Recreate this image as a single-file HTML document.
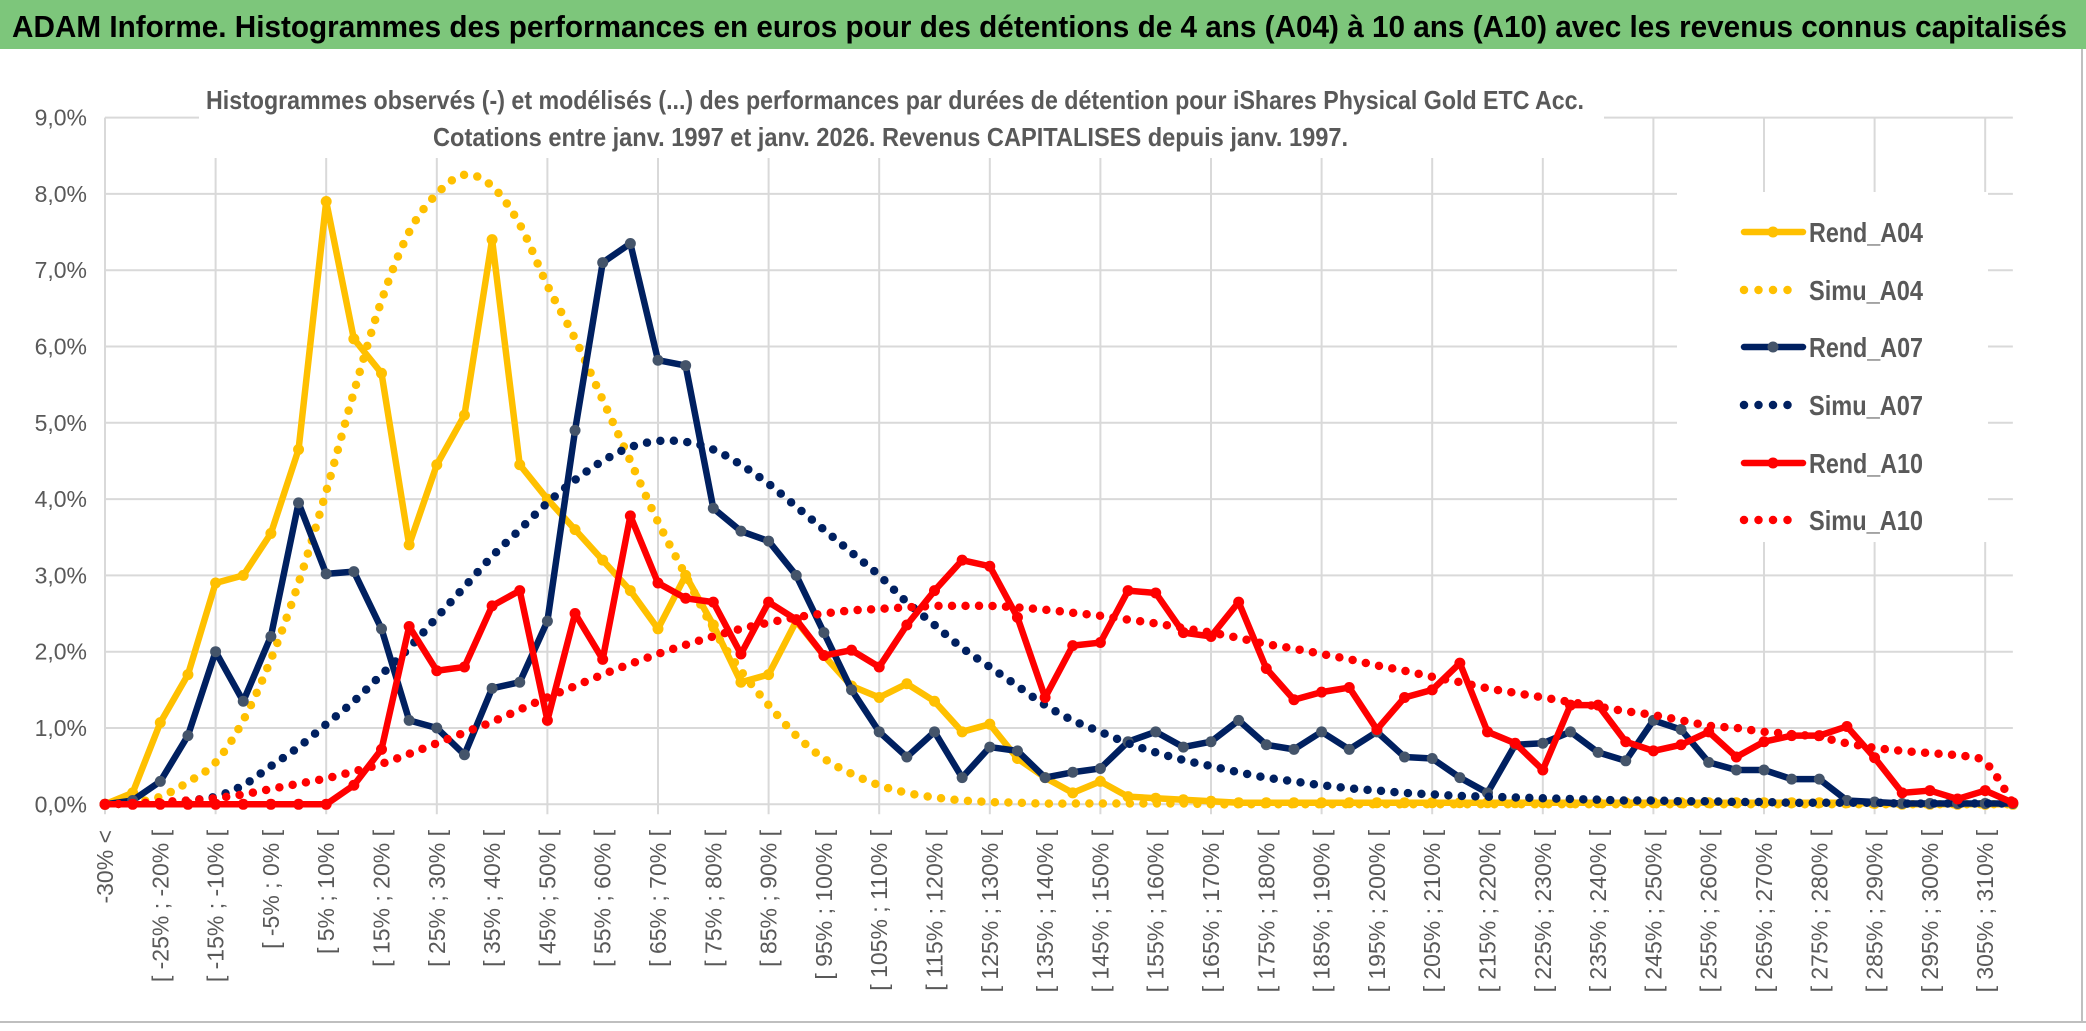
<!DOCTYPE html>
<html><head><meta charset="utf-8">
<style>
html,body{margin:0;padding:0;background:#fff;}
svg{display:block;}
text{font-family:"Liberation Sans",sans-serif;}
</style></head>
<body>
<svg id="chart" width="2086" height="1031" viewBox="0 0 2086 1031" xmlns="http://www.w3.org/2000/svg">
<rect x="0" y="0" width="2086" height="1031" fill="#ffffff"/>
<rect x="0" y="0" width="2086" height="49" fill="#7dc67b"/>
<text x="12" y="37" font-size="31" font-weight="bold" fill="#000" textLength="2055" lengthAdjust="spacingAndGlyphs">ADAM Informe. Histogrammes des performances en euros pour des détentions de 4 ans (A04) à 10 ans (A10) avec les revenus connus capitalisés</text>
<line x1="0" y1="1022" x2="2086" y2="1022" stroke="#bfbfbf" stroke-width="2"/>
<line x1="2082" y1="49" x2="2082" y2="1022" stroke="#bfbfbf" stroke-width="2"/>
<g id="grid"></g>
<rect x="199" y="58" width="1405" height="100" fill="#fff"/>
<text x="206" y="109" font-size="26" font-weight="bold" fill="#595959" textLength="1378" lengthAdjust="spacingAndGlyphs">Histogrammes observés (-) et modélisés (...) des performances par durées de détention pour iShares Physical Gold ETC Acc.</text>
<text x="433" y="146" font-size="26" font-weight="bold" fill="#595959" textLength="915" lengthAdjust="spacingAndGlyphs">Cotations entre janv. 1997 et janv. 2026. Revenus CAPITALISES depuis janv. 1997.</text>
<g id="yaxis"></g>
<g id="xaxis"></g>
<g id="series"></g>
<g id="legend"></g>
</svg>
<script>
const yTicks = [0,1,2,3,4,5,6,7,8,9];
const yTickLabels = ["0,0%","1,0%","2,0%","3,0%","4,0%","5,0%","6,0%","7,0%","8,0%","9,0%"];
const binStarts = [-30,-25,-20,-15,-10,-5,0,5,10,15,20,25,30,35,40,45,50,55,60,65,70,75,80,85,90,95,100,105,110,115,120,125,130,135,140,145,150,155,160,165,170,175,180,185,190,195,200,205,210,215,220,225,230,235,240,245,250,255,260,265,270,275,280,285,290,295,300,305,310];
const categories = ["-30% <"].concat(binStarts.map(b => "[ " + b + "% ; " + (b + 5) + "% ["));

const rendA04 = [0,0.15,1.07,1.7,2.9,3.0,3.55,4.65,7.9,6.1,5.65,3.4,4.45,5.1,7.4,4.45,4.0,3.6,3.2,2.8,2.3,3.0,2.35,1.6,1.7,2.4,1.95,1.55,1.4,1.58,1.35,0.95,1.05,0.6,0.35,0.15,0.3,0.1,0.08,0.06,0.04,0.02,0.02,0.02,0.02,0.02,0.02,0.02,0.02,0.02,0.02,0.02,0.02,0.02,0.02,0.02,0.02,0.02,0.02,0.02,0.02,0.02,0.02,0.02,0.01,0,0,0,0,0];
const simuA04 = [0,0.02,0.1,0.29,0.55,1.1,1.9,2.9,4.1,5.4,6.6,7.5,8.0,8.25,8.1,7.6,6.8,6.1,5.3,4.5,3.7,3.0,2.3,1.75,1.3,0.9,0.6,0.4,0.25,0.15,0.09,0.05,0.03,0.02,0.01,0.01,0.01,0.01,0.01,0.01,0,0,0,0,0,0,0,0,0,0,0,0,0,0,0,0,0,0,0,0,0,0,0,0,0,0,0,0,0,0];
const rendA07 = [0,0.05,0.3,0.9,2.0,1.35,2.2,3.95,3.02,3.05,2.3,1.1,1.0,0.65,1.52,1.6,2.4,4.9,7.1,7.35,5.82,5.75,3.88,3.58,3.45,3.0,2.25,1.5,0.95,0.62,0.95,0.35,0.75,0.7,0.35,0.42,0.47,0.82,0.95,0.75,0.82,1.1,0.78,0.72,0.95,0.72,0.95,0.62,0.6,0.35,0.15,0.78,0.8,0.95,0.68,0.57,1.1,0.98,0.55,0.45,0.45,0.33,0.33,0.05,0.03,0.01,0.01,0.01,0.01,0.01];
const simuA07 = [0,0.01,0.02,0.05,0.1,0.25,0.5,0.75,1.05,1.35,1.7,2.05,2.45,2.85,3.25,3.6,3.95,4.25,4.5,4.68,4.76,4.75,4.65,4.45,4.2,3.9,3.6,3.3,3.0,2.65,2.35,2.05,1.8,1.55,1.3,1.1,0.95,0.8,0.68,0.58,0.5,0.42,0.35,0.3,0.25,0.21,0.18,0.15,0.13,0.11,0.1,0.09,0.08,0.07,0.06,0.05,0.05,0.04,0.04,0.03,0.03,0.02,0.02,0.02,0.02,0.01,0.01,0.01,0.01,0.01];
const rendA10 = [0,0,0,0,0,0,0,0,0,0.25,0.72,2.33,1.75,1.8,2.6,2.8,1.1,2.5,1.9,3.78,2.9,2.7,2.65,1.97,2.65,2.42,1.95,2.02,1.8,2.35,2.8,3.2,3.12,2.45,1.4,2.08,2.12,2.8,2.77,2.25,2.2,2.65,1.78,1.37,1.47,1.53,0.98,1.4,1.5,1.85,0.95,0.8,0.45,1.3,1.3,0.82,0.7,0.78,0.95,0.62,0.82,0.9,0.9,1.02,0.61,0.15,0.18,0.07,0.18,0.02];
const simuA10 = [0,0.01,0.03,0.05,0.08,0.13,0.2,0.27,0.34,0.43,0.53,0.66,0.8,0.94,1.08,1.24,1.4,1.55,1.7,1.84,1.97,2.09,2.2,2.3,2.38,2.45,2.5,2.54,2.56,2.58,2.6,2.6,2.6,2.58,2.55,2.51,2.47,2.42,2.37,2.31,2.25,2.18,2.1,2.04,1.97,1.9,1.82,1.75,1.67,1.6,1.52,1.46,1.4,1.34,1.28,1.22,1.17,1.1,1.03,1.0,0.95,0.92,0.88,0.8,0.74,0.7,0.67,0.64,0.55,0.02];
const seriesNames = ["Rend_A04","Simu_A04","Rend_A07","Simu_A07","Rend_A10","Simu_A10"];

const NS = "http://www.w3.org/2000/svg";
const X0 = 105, XSTEP = 27.65, Y0 = 804.3, YUNIT = 76.3;
function xScale(i){ return X0 + i * XSTEP; }
function yScale(v){ return Y0 - v * YUNIT; }
function mk(tag, attrs, parent){
  const e = document.createElementNS(NS, tag);
  for (const k in attrs) e.setAttribute(k, attrs[k]);
  parent.appendChild(e);
  return e;
}
const grid = document.getElementById("grid");
const xRight = xScale(categories.length - 1);
yTicks.forEach((t, i) => {
  const l = mk("line", {x1: X0, y1: yScale(t), x2: xRight, y2: yScale(t), stroke: "#d9d9d9", "stroke-width": 2}, grid);
  
  
});
for (let i = 0; i < categories.length; i += 4) {
  const l = mk("line", {x1: xScale(i), y1: yScale(yTicks[yTicks.length - 1]), x2: xScale(i), y2: Y0 + 10, stroke: "#d9d9d9", "stroke-width": 2}, grid);
  
  
}
const lgBox = mk("rect", {x: 1677, y: 192, width: 311, height: 350, fill: "#fff"}, grid);



const yaxis = document.getElementById("yaxis");
yTicks.forEach((t, i) => {
  const tx = mk("text", {x: 87, y: yScale(t) + 8, "font-size": 23, fill: "#595959", "text-anchor": "end"}, yaxis);
  tx.textContent = yTickLabels[i];
  
  
});
const xaxis = document.getElementById("xaxis");
categories.forEach((c, i) => {
  if (i % 2 !== 0) return;
  const x = xScale(i) + 8, y = 830;
  const tx = mk("text", {x: x, y: y, "font-size": 23, fill: "#595959", "text-anchor": "end", transform: "rotate(-90 " + x + " " + y + ")"}, xaxis);
  tx.textContent = c;
  
  
});

function smoothPath(vals){
  const p = vals.map((v, i) => [xScale(i), yScale(v)]);
  let d = "M" + p[0][0] + "," + p[0][1];
  for (let i = 0; i < p.length - 1; i++) {
    const p0 = p[i - 1] || p[i], p1 = p[i], p2 = p[i + 1], p3 = p[i + 2] || p2;
    const c1x = p1[0] + (p2[0] - p0[0]) / 6, c1y = p1[1] + (p2[1] - p0[1]) / 6;
    const c2x = p2[0] - (p3[0] - p1[0]) / 6, c2y = p2[1] - (p3[1] - p1[1]) / 6;
    d += " C" + c1x + "," + c1y + " " + c2x + "," + c2y + " " + p2[0] + "," + p2[1];
  }
  return d;
}
function linePath(vals){
  return vals.map((v, i) => (i ? "L" : "M") + xScale(i) + "," + yScale(v)).join(" ");
}
const sg = document.getElementById("series");
function drawRend(vals, color, marker, name){
  const g = mk("g", {}, sg);
  
  
  const p = mk("path", {d: linePath(vals), fill: "none", stroke: color, "stroke-width": 6.5, "stroke-linejoin": "round"}, g);
  
  
  vals.forEach((v, i) => {
    const c = mk("circle", {cx: xScale(i), cy: yScale(v), r: 5.5, fill: marker}, g);
    
    
  });
}
function drawSimu(vals, color, name){
  const p = mk("path", {d: smoothPath(vals), fill: "none", stroke: color, "stroke-width": 8.5, "stroke-linecap": "round", "stroke-dasharray": "0 13.5"}, sg);
  
  
}
drawRend(rendA04, "#ffc000", "#ffc000", "rend-a04");
drawSimu(simuA04, "#ffc000", "simu-a04");
drawRend(rendA07, "#002060", "#44546a", "rend-a07");
drawSimu(simuA07, "#002060", "simu-a07");
drawRend(rendA10, "#ff0000", "#ff0000", "rend-a10");
drawSimu(simuA10, "#ff0000", "simu-a10");

const lg = document.getElementById("legend");
const lgColors = ["#ffc000","#ffc000","#002060","#002060","#ff0000","#ff0000"];
const lgMarkers = ["#ffc000",null,"#44546a",null,"#ff0000",null];
const lgY = [232,290,347,405,463,520];
seriesNames.forEach((n, i) => {
  const y = lgY[i];
  const g = mk("g", {}, lg);
  
  
  if (lgMarkers[i]) {
    mk("line", {x1: 1744, y1: y, x2: 1803, y2: y, stroke: lgColors[i], "stroke-width": 6.5, "stroke-linecap": "round"}, g);
    mk("circle", {cx: 1773, cy: y, r: 5.5, fill: lgMarkers[i]}, g);
  } else {
    mk("line", {x1: 1744, y1: y, x2: 1800, y2: y, stroke: lgColors[i], "stroke-width": 8.5, "stroke-linecap": "round", "stroke-dasharray": "0 14.5"}, g);
  }
  const t = mk("text", {x: 1809, y: y + 10, "font-size": 28, "font-weight": "bold", fill: "#595959", textLength: 114, lengthAdjust: "spacingAndGlyphs"}, g);
  t.textContent = n;
});
</script>
</body></html>
